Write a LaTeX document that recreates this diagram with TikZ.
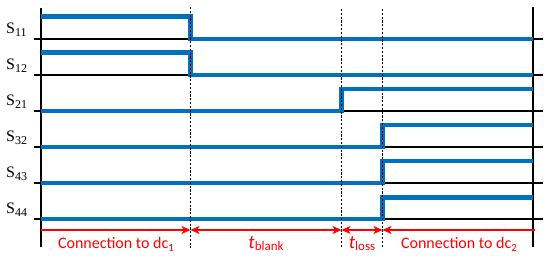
\documentclass[tikz,border=0pt]{standalone}
\usepackage{fontspec}
\usetikzlibrary{arrows.meta}
\newfontfamily\lserif{Liberation Serif}
\newfontfamily\calib{Carlito}
\definecolor{wblue}{HTML}{0070C0}
\definecolor{wred}{HTML}{FF0000}
\begin{document}
\begin{tikzpicture}[x=1pt,y=-1pt,
  axis/.style={black,line width=1.6pt},
  base/.style={black,line width=1.1pt},
  wave/.style={wblue,line width=4.2pt,line join=miter},
  vdot/.style={black,line width=1.8pt,dash pattern=on 2.2pt off 1.6pt},
  span/.style={wred,line width=1.3pt},
  slabel/.style={font=\lserif\fontsize{16}{16}\selectfont,anchor=base west,inner sep=0pt},
  rlabel/.style={wred,font=\calib\fontsize{16}{16}\selectfont,anchor=base,inner sep=0pt}]
\useasboundingbox (0,0) rectangle (550,259);
% axes
\draw[axis] (41,8) -- (41,247);
\draw[axis] (533,7) -- (533,247);
% baselines
\foreach \y in {39,75,111,147,183,219}{
  \draw[base] (34,\y) -- (543,\y);
}
% waveforms
\draw[wave] (41,16.5) -- (190.5,16.5) -- (190.5,39) -- (533,39);
\draw[wave] (41,52.5) -- (190.5,52.5) -- (190.5,75) -- (533,75);
\draw[wave] (41,111) -- (341.5,111) -- (341.5,89) -- (533,89);
\draw[wave] (41,147) -- (382.5,147) -- (382.5,125) -- (533,125);
\draw[wave] (41,183) -- (382.5,183) -- (382.5,161) -- (533,161);
\draw[wave] (41,219) -- (382.5,219) -- (382.5,197.5) -- (533,197.5);
% dotted lines
\draw[vdot] (190.5,7) -- (190.5,248);
\draw[vdot] (341.5,9) -- (341.5,248);
\draw[vdot] (382.5,9) -- (382.5,248);
% labels
\node[slabel] (s11) at (6,33.5) {S\raisebox{-0.35ex}{\fontsize{12}{12}\selectfont 11}};
\node[slabel] (s12) at (6,69.5) {S\raisebox{-0.35ex}{\fontsize{12}{12}\selectfont 12}};
\node[slabel] (s21) at (6,105.5) {S\raisebox{-0.35ex}{\fontsize{12}{12}\selectfont 21}};
\node[slabel] (s32) at (6,141.5) {S\raisebox{-0.35ex}{\fontsize{12}{12}\selectfont 32}};
\node[slabel] (s43) at (6,177.5) {S\raisebox{-0.35ex}{\fontsize{12}{12}\selectfont 43}};
\node[slabel] (s44) at (6,213.5) {S\raisebox{-0.35ex}{\fontsize{12}{12}\selectfont 44}};
% spans
\coordinate (a0) at (41,230);
\coordinate (a1) at (190.5,230);
\coordinate (a2) at (341.5,230);
\coordinate (a3) at (382.5,230);
\coordinate (a4) at (535,230);
\tikzset{rt/.tip={Stealth[length=9pt,width=8pt,inset=2.5pt]}}
\draw[span,-rt] (a0) -- (a1);
\draw[span,rt-rt] (a1) -- (a2);
\draw[span,rt-rt] (a2) -- (a3);
\draw[span,rt-] (a3) -- (a4);
\node[rlabel] (l1) at (116,248.5) {Connection to dc\raisebox{-0.4ex}{\fontsize{11}{11}\selectfont 1}};
\node[rlabel] (l2) at (266,248.5) {{\fontsize{19}{19}\selectfont\itshape t}\raisebox{-0.3ex}{\fontsize{13}{13}\selectfont blank}};
\node[rlabel] (l3) at (362,248.5) {{\fontsize{19}{19}\selectfont\itshape t}\raisebox{-0.3ex}{\fontsize{13}{13}\selectfont loss}};
\node[rlabel] (l4) at (459,248.5) {Connection to dc\raisebox{-0.4ex}{\fontsize{11}{11}\selectfont 2}};
\end{tikzpicture}
\end{document}
